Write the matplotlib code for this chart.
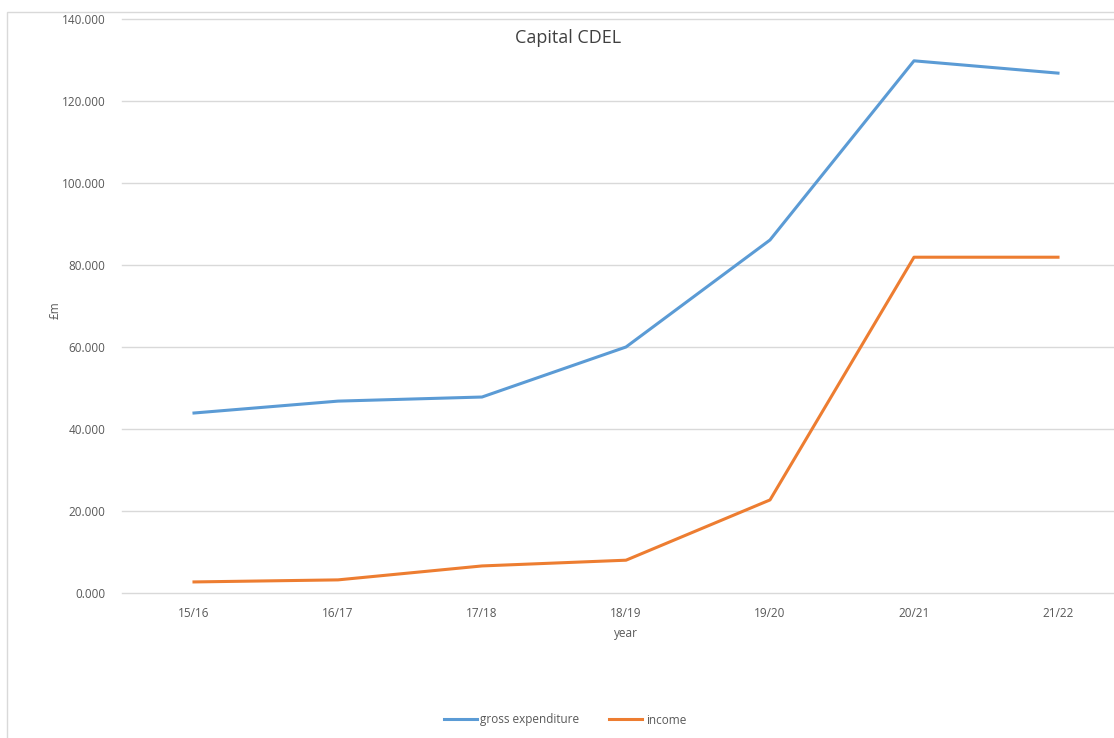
import matplotlib.pyplot as plt
from matplotlib.patches import Rectangle
from matplotlib.ticker import FuncFormatter

years = ['15/16', '16/17', '17/18', '18/19', '19/20', '20/21', '21/22']
gross_expenditure = [43.9, 46.8, 47.8, 60.0, 86.1, 129.8, 126.8]
income = [2.7, 3.2, 6.6, 8.0, 22.7, 81.9, 81.9]

plt.rcParams['font.family'] = ['Open Sans', 'DejaVu Sans']
text_col = '#595959'

fig = plt.figure(figsize=(11.14, 7.38), dpi=100)
ax = fig.add_axes([122 / 1114, 1 - 593 / 738, (1130 - 122) / 1114, (593 - 19) / 738])

x = range(len(years))
ax.plot(x, gross_expenditure, color='#5B9BD5', lw=2.2, label='gross expenditure')
ax.plot(x, income, color='#ED7D31', lw=2.2, label='income')

ax.set_xlim(-0.5, len(years) - 0.5)
ax.set_ylim(0, 140)
ax.set_yticks(range(0, 141, 20))
ax.yaxis.set_major_formatter(FuncFormatter(lambda v, p: f'{v:.3f}'))
ax.set_xticks(list(x))
ax.set_xticklabels(years)
ax.grid(axis='y', color='#D9D9D9', lw=1)
for gl in ax.get_ygridlines():
    gl.set_clip_on(False)
ax.set_axisbelow(True)
for s in ax.spines.values():
    s.set_visible(False)
ax.tick_params(length=0, labelsize=8.5, colors=text_col, pad=12)
ax.tick_params(axis='x', pad=10)

ax.set_xlabel('year', fontsize=8.5, color=text_col, labelpad=5)
fig.text(55 / 1114, 1 - 310 / 738, '£m', rotation=90, fontsize=8.5, color=text_col,
         ha='center', va='center')
fig.text(568 / 1114, 1 - 38 / 738, 'Capital CDEL', fontsize=13, color='#404040',
         ha='center', va='center')

fig.legend(loc='center', bbox_to_anchor=(565 / 1114, 1 - 720 / 738), ncol=2, frameon=False,
           fontsize=8.5, labelcolor=text_col, handlelength=2.8, columnspacing=2.5,
           handletextpad=0.3)

fig.patches.append(Rectangle((7 / 1114, -0.01), 1.02, 1 - 12 / 738 + 0.01,
                             transform=fig.transFigure, fill=False, ec='#D9D9D9', lw=1))

fig.savefig('out.png', dpi=100)
